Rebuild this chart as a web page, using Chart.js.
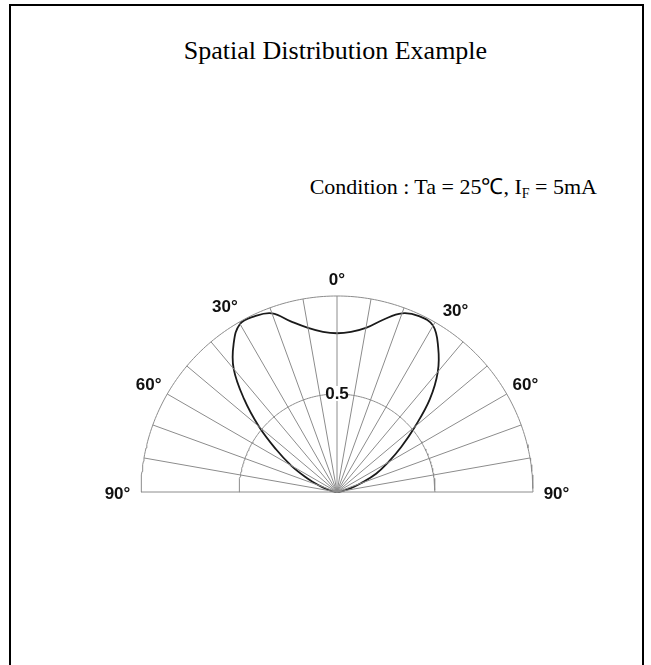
<!DOCTYPE html>
<html lang="en">
<head>
<meta charset="utf-8">
<title>Spatial Distribution Example</title>
<script src="https://cdn.jsdelivr.net/npm/chart.js@4.4.1/dist/chart.umd.min.js"></script>
<style>
  html, body { margin: 0; padding: 0; background: #fff; }
  body { width: 651px; height: 665px; position: relative; overflow: hidden; }
  #frame {
    position: absolute; left: 9px; top: 4px; width: 631px; height: 700px;
    border: 2px solid #000; border-bottom: none;
  }
  #title {
    position: absolute; left: 0; width: 671px; top: 36px; text-align: center;
    font: 26px "Liberation Serif", "Times New Roman", serif; color: #000;
  }
  #cond {
    position: absolute; right: 54px; top: 170px;
    font: 22px "Liberation Serif", "Times New Roman", serif; color: #000;
  }
  #cond sub { font-size: 14px; vertical-align: -4px; }
  #wrap { position: absolute; left: 0; top: 0; width: 651px; height: 665px; }
</style>
</head>
<body>
<div id="frame"></div>
<div id="title">Spatial Distribution Example</div>
<div id="cond">Condition : Ta = 25℃, I<sub>F</sub> = 5mA</div>
<div id="wrap"><canvas id="chart"></canvas></div>
<script>
// Abstrahlwinkel (Grad, 0 = senkrecht nach oben) und relative Intensität
const ANGLES = [-90, -85, -80, -75, -70, -65, -60, -55, -50, -45, -40, -35, -30, -25, -20, -15, -10, -5,
  0, 5, 10, 15, 20, 25, 30, 35, 40, 45, 50, 55, 60, 65, 70, 75, 80, 85, 90];
const INTENSITY = [0, 0.01, 0.02, 0.05, 0.10, 0.17, 0.27, 0.38, 0.52, 0.67, 0.82, 0.92, 0.99, 0.99, 0.97, 0.90, 0.85, 0.82,
  0.81, 0.82, 0.85, 0.91, 0.97, 0.99, 0.98, 0.90, 0.80, 0.67, 0.52, 0.40, 0.30, 0.22, 0.13, 0.07, 0.03, 0.01, 0];

// Raster: Ringe und Speichen
const RING_RADII = [0.5, 1.0];
const SPOKE_ANGLES = [-90, -80, -70, -60, -50, -40, -30, -20, -10, 0, 10, 20, 30, 40, 50, 60, 70, 80, 90];
const ANGLE_LABELS = [-90, -60, -30, 0, 30, 60, 90];
const RADIUS_LABELS = [0.5];

const GRID = '#8c8c8c';
const toXY = (deg, r) => {
  const a = deg * Math.PI / 180;
  return { x: r * Math.sin(a), y: r * Math.cos(a) };
};

// Pixelgeometrie: Mittelpunkt (337, 492), Radius 196 px
const W = 651, H = 665, CX = 337, CY = 492, R = 196;

const datasets = [];
RING_RADII.forEach(r => {
  const pts = [];
  for (let d = -90; d <= 90; d++) pts.push(toXY(d, r));
  datasets.push({ data: pts, borderColor: GRID, borderWidth: 1, pointRadius: 0, showLine: true, tension: 0 });
});
SPOKE_ANGLES.forEach(d => {
  datasets.push({ data: [toXY(d, 0), toXY(d, 1)], borderColor: GRID, borderWidth: 1, pointRadius: 0, showLine: true });
});
datasets.push({
  label: 'Relative intensity',
  data: ANGLES.map((d, i) => toXY(d, INTENSITY[i])),
  borderColor: '#1a1a1a', borderWidth: 1.8, pointRadius: 0, showLine: true, tension: 0.4,
});

// Beschriftung sitzt etwas außerhalb des Außenrings, zentriert
// (im Original steht die rechte 30°-Marke ein Stück weiter außen)
const labelRadius = d => (Math.abs(d) === 90 ? 1.12 : d === 0 ? 1.09 : 1.11);
const labelAngle = d => (d === 30 ? 33 : d === -30 ? -31 : d);

const polarLabels = {
  id: 'polarLabels',
  afterDatasetsDraw(chart) {
    const { ctx, scales: { x, y } } = chart;
    ctx.save();
    ctx.fillStyle = '#111';
    ctx.font = 'bold 17px "Liberation Sans Narrow", "Arial Narrow", "Liberation Sans", sans-serif';
    ctx.textBaseline = 'middle';
    ctx.textAlign = 'center';
    ANGLE_LABELS.forEach(d => {
      const p = toXY(labelAngle(d), labelRadius(d));
      ctx.fillText(Math.abs(d) + '°', x.getPixelForValue(p.x), y.getPixelForValue(p.y) + 2);
    });
    RADIUS_LABELS.forEach(r => {
      const px = x.getPixelForValue(0);
      const py = y.getPixelForValue(r);
      ctx.fillStyle = '#fff';
      ctx.fillRect(px - 11, py - 8, 22, 15);
      ctx.fillStyle = '#111';
      ctx.fillText(String(r), px, py);
    });
    ctx.restore();
  },
};

new Chart(document.getElementById('chart'), {
  type: 'scatter',
  data: { datasets },
  options: {
    responsive: true,
    maintainAspectRatio: false,
    animation: false,
    layout: { padding: 0 },
    scales: {
      x: { type: 'linear', display: false, min: -CX / R, max: (W - CX) / R },
      y: { type: 'linear', display: false, min: -(H - CY) / R, max: CY / R },
    },
    plugins: { legend: { display: false }, tooltip: { enabled: false } },
  },
  plugins: [polarLabels],
});
</script>
</body>
</html>
